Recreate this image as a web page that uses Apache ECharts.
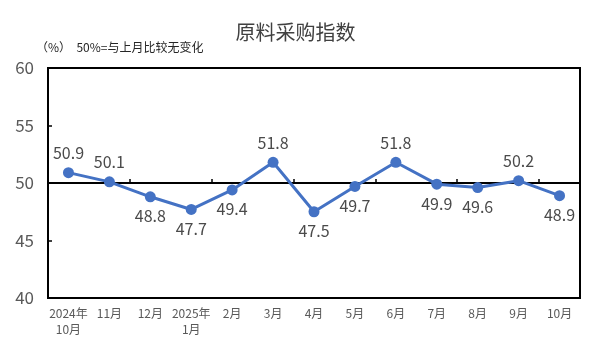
<!DOCTYPE html>
<html>
<head>
<meta charset="utf-8">
<script src="https://cdn.jsdelivr.net/npm/echarts@6/dist/echarts.min.js"></script>
<style>
  html, body { margin: 0; padding: 0; background: #fff; }
  #main { width: 591px; height: 354px; }
</style>
</head>
<body>
<div id="main"></div>
<script>
// 月份
const months = ['2024年\n10月', '11月', '12月', '2025年\n1月', '2月', '3月', '4月', '5月', '6月', '7月', '8月', '9月', '10月']
// 原料采购指数
const values = [50.9, 50.1, 48.8, 47.7, 49.4, 51.8, 47.5, 49.7, 51.8, 49.9, 49.6, 50.2, 48.9]
// 标签在点的上方还是下方
const labelPos = ['top', 'top', 'bottom', 'bottom', 'bottom', 'top', 'bottom', 'bottom', 'top', 'bottom', 'bottom', 'top', 'bottom']
const yTicks = [40, 45, 50, 55, 60]

const font = '"Noto Sans CJK SC", "Noto Sans", sans-serif'
const myEchart = echarts.init(document.getElementById('main'))

const gridTop = 68, gridBottom = 56
const gridH = 354 - gridTop - gridBottom

myEchart.setOption({
  animation: false,
  title: {
    text: '原料采购指数',
    left: 'center',
    top: 17,
    textStyle: { fontFamily: font, fontSize: 20, fontWeight: 'normal', color: '#404040' }
  },
  graphic: [{
    type: 'text',
    left: 36,
    top: 41,
    style: { text: '（%）  50%=与上月比较无变化', font: '12px ' + font, fill: '#262626' }
  }],
  grid: {
    left: 48, right: 11, top: gridTop, bottom: gridBottom,
    show: true, borderColor: '#000', borderWidth: 2
  },
  xAxis: [
    {
      type: 'category',
      data: months,
      boundaryGap: true,
      axisLine: { show: false },
      axisTick: { show: false },
      axisLabel: { fontFamily: font, fontSize: 12, color: '#595959', margin: 7, lineHeight: 16, interval: 0 }
    },
    {
      type: 'category',
      data: months,
      position: 'bottom',
      offset: -gridH / 2,
      boundaryGap: true,
      axisLine: { show: true, lineStyle: { color: '#000', width: 2 } },
      axisTick: { show: true, inside: true, length: 4, lineStyle: { color: '#000', width: 1.5 } },
      axisLabel: { show: false }
    }
  ],
  yAxis: {
    type: 'value',
    min: yTicks[0],
    max: yTicks[yTicks.length - 1],
    interval: 5,
    splitLine: { show: false },
    axisLine: { show: false },
    axisTick: { show: true, inside: true, length: 4, lineStyle: { color: '#000', width: 1.5 } },
    axisLabel: { fontFamily: font, fontSize: 17, color: '#595959', margin: 14 }
  },
  series: [{
    type: 'line',
    xAxisIndex: 0,
    data: values.map((v, i) => ({ value: v, label: { position: labelPos[i] } })),
    symbol: 'circle',
    symbolSize: 11,
    lineStyle: { color: '#4472C4', width: 3 },
    itemStyle: { color: '#4472C4' },
    label: {
      show: true,
      fontFamily: font,
      fontSize: 16,
      color: '#4a4a4a',
      distance: 6
    }
  }]
})
</script>
</body>
</html>
